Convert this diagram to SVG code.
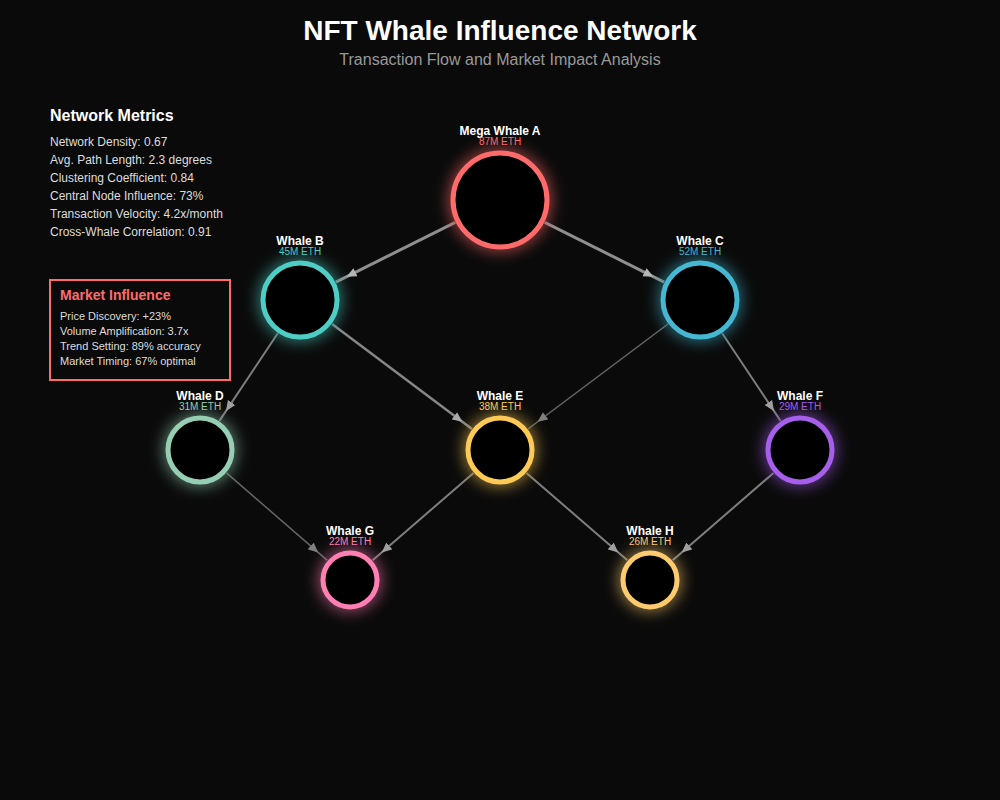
<svg xmlns="http://www.w3.org/2000/svg" width="1000" height="800" viewBox="0 0 1000 800">
<defs>
<style>
.title{font-family:"Liberation Sans",Arial,sans-serif;font-size:28px;font-weight:bold;fill:#ffffff;text-anchor:middle}
.subtitle{font-family:"Liberation Sans",Arial,sans-serif;font-size:16px;fill:#999999;text-anchor:middle}
.ph{font-family:"Liberation Sans",Arial,sans-serif;font-size:16px;font-weight:bold;fill:#ffffff}
.pt{font-family:"Liberation Sans",Arial,sans-serif;font-size:12px;fill:#dddddd}
.mh{font-family:"Liberation Sans",Arial,sans-serif;font-size:14px;font-weight:bold;fill:#ff6b6b}
.mt{font-family:"Liberation Sans",Arial,sans-serif;font-size:11px;fill:#dddddd}
.name{font-family:"Liberation Sans",Arial,sans-serif;font-size:12px;font-weight:bold;fill:#ffffff;text-anchor:middle}
.eth{font-family:"Liberation Sans",Arial,sans-serif;font-size:10px;text-anchor:middle}
.node{fill:#050505;stroke-width:5}
.edge{stroke:#b0b0b0;fill:none;marker-end:url(#arrow)}
.w1{stroke-width:3;opacity:0.8}
.w2{stroke-width:2.5;opacity:0.75}
.w3{stroke-width:2;opacity:0.7}
.w4{stroke-width:1.5;opacity:0.55}
</style>
<marker id="arrow" markerUnits="userSpaceOnUse" viewBox="0 -5 24 10" refX="22" refY="0" markerWidth="24" markerHeight="10" orient="auto">
<path d="M0,-4.5 L10,0 L0,4.5 Z" fill="#e0e0e0"/>
</marker>
<filter id="glow" x="-60%" y="-60%" width="220%" height="220%">
<feGaussianBlur in="SourceGraphic" stdDeviation="8" result="b"/>
<feMerge><feMergeNode in="b"/><feMergeNode in="SourceGraphic"/></feMerge>
</filter>
</defs>
<rect x="0" y="0" width="1000" height="800" fill="#0a0a0a"/>
<text class="title" x="500" y="40">NFT Whale Influence Network</text>
<text class="subtitle" x="500" y="65">Transaction Flow and Market Impact Analysis</text>

<g id="network-metrics">
<text class="ph" x="50" y="121">Network Metrics</text>
<text class="pt" x="50" y="146">Network Density: 0.67</text>
<text class="pt" x="50" y="164">Avg. Path Length: 2.3 degrees</text>
<text class="pt" x="50" y="182">Clustering Coefficient: 0.84</text>
<text class="pt" x="50" y="200">Central Node Influence: 73%</text>
<text class="pt" x="50" y="218">Transaction Velocity: 4.2x/month</text>
<text class="pt" x="50" y="236">Cross-Whale Correlation: 0.91</text>
</g>

<g id="market-influence">
<rect x="50" y="280" width="180" height="100" fill="#0a0a0a" stroke="#ff6b6b" stroke-width="2"/>
<text class="mh" x="60" y="300">Market Influence</text>
<text class="mt" x="60" y="320">Price Discovery: +23%</text>
<text class="mt" x="60" y="335">Volume Amplification: 3.7x</text>
<text class="mt" x="60" y="350">Trend Setting: 89% accuracy</text>
<text class="mt" x="60" y="365">Market Timing: 67% optimal</text>
</g>

<g id="connectors">
<line class="edge w1" x1="455.28" y1="222.36" x2="335.78" y2="282.11"/>
<line class="edge w1" x1="544.72" y1="222.36" x2="664.22" y2="282.11"/>
<line class="edge w3" x1="277.81" y1="333.28" x2="219.41" y2="420.88"/>
<line class="edge w2" x1="332" y1="324" x2="472" y2="429"/>
<line class="edge w4" x1="668" y1="324" x2="528" y2="429"/>
<line class="edge w3" x1="722.19" y1="333.28" x2="780.59" y2="420.88"/>
<line class="edge w4" x1="226.45" y1="472.92" x2="327.33" y2="560.35"/>
<line class="edge w3" x1="473.55" y1="472.92" x2="372.67" y2="560.35"/>
<line class="edge w3" x1="526.45" y1="472.92" x2="627.33" y2="560.35"/>
<line class="edge w3" x1="773.55" y1="472.92" x2="672.67" y2="560.35"/>
</g>

<g id="node-a">
<circle class="node" cx="500" cy="200" r="47" stroke="#ff6b6b" filter="url(#glow)"/>
<text class="name" x="500" y="135">Mega Whale A</text>
<text class="eth" x="500" y="145" fill="#ff6b6b">87M ETH</text>
</g>
<g id="node-b">
<circle class="node" cx="300" cy="300" r="37" stroke="#4ecdc4" filter="url(#glow)"/>
<text class="name" x="300" y="245">Whale B</text>
<text class="eth" x="300" y="255" fill="#4ecdc4">45M ETH</text>
</g>
<g id="node-c">
<circle class="node" cx="700" cy="300" r="37" stroke="#45b7d1" filter="url(#glow)"/>
<text class="name" x="700" y="245">Whale C</text>
<text class="eth" x="700" y="255" fill="#45b7d1">52M ETH</text>
</g>
<g id="node-d">
<circle class="node" cx="200" cy="450" r="32" stroke="#96ceb4" filter="url(#glow)"/>
<text class="name" x="200" y="400">Whale D</text>
<text class="eth" x="200" y="410" fill="#96ceb4">31M ETH</text>
</g>
<g id="node-e">
<circle class="node" cx="500" cy="450" r="32" stroke="#feca57" filter="url(#glow)"/>
<text class="name" x="500" y="400">Whale E</text>
<text class="eth" x="500" y="410" fill="#feca57">38M ETH</text>
</g>
<g id="node-f">
<circle class="node" cx="800" cy="450" r="32" stroke="#a55eea" filter="url(#glow)"/>
<text class="name" x="800" y="400">Whale F</text>
<text class="eth" x="800" y="410" fill="#a55eea">29M ETH</text>
</g>
<g id="node-g">
<circle class="node" cx="350" cy="580" r="27" stroke="#ff7eb3" filter="url(#glow)"/>
<text class="name" x="350" y="535">Whale G</text>
<text class="eth" x="350" y="545" fill="#ff7eb3">22M ETH</text>
</g>
<g id="node-h">
<circle class="node" cx="650" cy="580" r="27" stroke="#fdcb6e" filter="url(#glow)"/>
<text class="name" x="650" y="535">Whale H</text>
<text class="eth" x="650" y="545" fill="#fdcb6e">26M ETH</text>
</g>
</svg>
